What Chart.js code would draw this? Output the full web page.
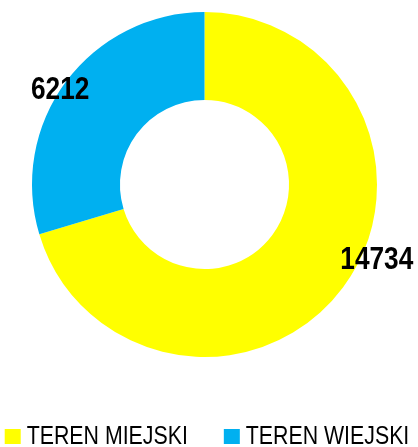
<!DOCTYPE html>
<html lang="pl">
<head>
    <meta charset="UTF-8">
    <title>Teren miejski / wiejski</title>
    <style>
        html, body { margin: 0; padding: 0; background: #fff; }
        #wrap { width: 418px; height: 447px; }
    </style>
</head>
<body>
    <div id="wrap">
        <canvas id="myChart" width="418" height="447"></canvas>
    </div>

    <script src="https://cdn.jsdelivr.net/npm/chart.js"></script>

    <script>
        // dane
        const categories = ['TEREN MIEJSKI', 'TEREN WIEJSKI'];
        const values = [14734, 6212];
        const colors = ['#FFFF00', '#00B0F0'];

        // brak Arial Narrow -> Liberation Sans ściśnięty w poziomie
        const FONT = "'Liberation Sans', Arial, sans-serif";
        const NARROW = 0.82;

        function narrowText(c, text, x, y) {
            c.save();
            c.translate(x, y);
            c.scale(NARROW, 1);
            c.fillText(text, 0, 0);
            c.restore();
        }

        // etykiety wartości przy krawędzi pierścienia (kąt przesunięty, promień * factor)
        const labelPlace = [
            { angle: -13, factor: 1.09 },
            { angle: -3.4, factor: 1.0 }
        ];

        const valueLabels = {
            id: 'valueLabels',
            afterDatasetsDraw(chart) {
                const c = chart.ctx;
                const meta = chart.getDatasetMeta(0);
                c.save();
                c.font = 'bold 32px ' + FONT;
                c.fillStyle = '#000';
                c.textAlign = 'center';
                c.textBaseline = 'middle';
                meta.data.forEach((arc, i) => {
                    const p = arc.getProps(['x', 'y', 'startAngle', 'endAngle', 'outerRadius'], true);
                    const a = (p.startAngle + p.endAngle) / 2 + labelPlace[i].angle * Math.PI / 180;
                    const r = p.outerRadius * labelPlace[i].factor;
                    narrowText(c, String(values[i]), p.x + Math.cos(a) * r, p.y + Math.sin(a) * r);
                });
                c.restore();
            }
        };

        // legenda na dole rysowana ręcznie (mniejszy odstęp kwadrat-tekst niż w Chart.js)
        const bottomLegend = {
            id: 'bottomLegend',
            afterDraw(chart) {
                const c = chart.ctx;
                const box = 16, gap = 6, spacing = 36;
                const y = 436;
                c.save();
                c.font = '26px ' + FONT;
                c.textBaseline = 'middle';
                c.textAlign = 'left';
                const widths = categories.map(t => c.measureText(t).width * NARROW);
                let total = 0;
                widths.forEach((w, i) => { total += box + gap + w + (i ? spacing : 0); });
                let x = 207 - total / 2;
                categories.forEach((t, i) => {
                    c.fillStyle = colors[i];
                    c.fillRect(x, y - 7, box, 15);
                    c.fillStyle = '#000';
                    narrowText(c, t, x + box + gap, y + 1);
                    x += box + gap + widths[i] + spacing;
                });
                c.restore();
            }
        };

        new Chart(document.getElementById('myChart'), {
            type: 'doughnut',
            data: {
                labels: categories,
                datasets: [{
                    data: values,
                    backgroundColor: colors,
                    borderWidth: 0
                }]
            },
            options: {
                responsive: false,
                animation: false,
                cutout: '49%',
                layout: { padding: { top: 12, bottom: 90, left: 0, right: 9 } },
                plugins: {
                    legend: { display: false },
                    tooltip: { enabled: false }
                }
            },
            plugins: [valueLabels, bottomLegend]
        });
    </script>
</body>
</html>
